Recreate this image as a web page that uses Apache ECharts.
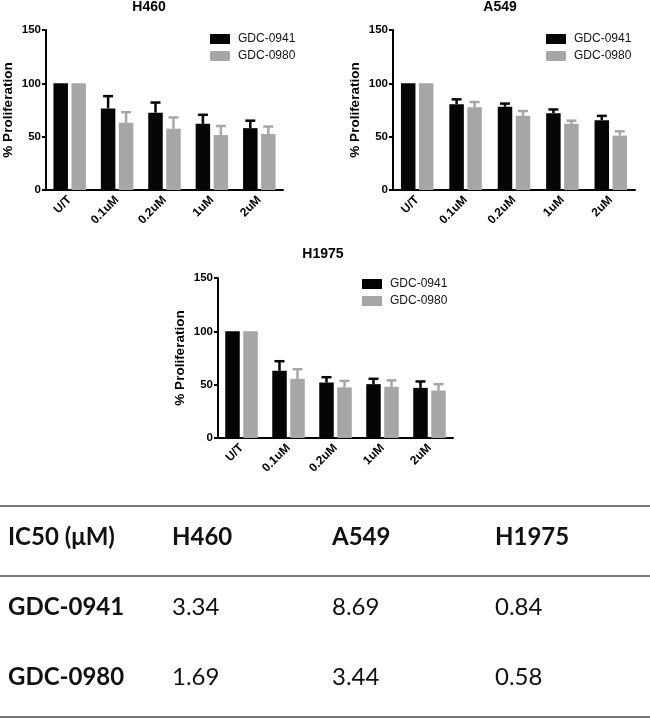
<!DOCTYPE html>
<html>
<head>
<meta charset="utf-8">
<script src="https://cdn.jsdelivr.net/npm/echarts@6/dist/echarts.min.js"></script>
<style>
html,body{margin:0;padding:0;background:#fff;}
#chart{width:650px;height:718px;}
</style>
</head>
<body>
<div id="chart"></div>
<script>
// ---------- data ----------
const categories = ['U/T', '0.1uM', '0.2uM', '1uM', '2uM'];
const seriesNames = ['GDC-0941', 'GDC-0980'];
const panelTitles = ['H460', 'A549', 'H1975'];
const yTicks = [0, 50, 100, 150];

const h460_0941 = [100, 76.5, 72.5, 62, 58];
const h460_0941_err = [0, 11.5, 9.5, 8.5, 7];
const h460_0980 = [100, 63, 57.5, 51.5, 52.5];
const h460_0980_err = [0, 10, 10.5, 8.5, 7];

const a549_0941 = [100, 80.5, 78, 72, 65.5];
const a549_0941_err = [0, 4.5, 3, 3.5, 4];
const a549_0980 = [100, 77.5, 69.5, 62, 51];
const a549_0980_err = [0, 5, 4.5, 3, 4];

const h1975_0941 = [100, 63, 52, 50.5, 47];
const h1975_0941_err = [0, 9, 5, 5, 6];
const h1975_0980 = [100, 55.5, 47.5, 48, 44.5];
const h1975_0980_err = [0, 9, 6, 6, 6];

const ic50Header = ['IC50 (\u03bcM)', 'H460', 'A549', 'H1975'];
const ic50RowLabels = ['GDC-0941', 'GDC-0980'];
const ic50_0941 = ['3.34', '8.69', '0.84'];
const ic50_0980 = ['1.69', '3.44', '0.58'];

// ---------- styling ----------
const BLACK = '#050505';
const GRAY = '#a6a6a6';
const FONT = 'Liberation Sans';
const BAR_W = 14.5;
const GAP = 3.5;

const panels = [
  { title: panelTitles[0], a: h460_0941, ae: h460_0941_err, b: h460_0980, be: h460_0980_err,
    grid: { left: 42, top: 30, width: 241, height: 160 }, titleX: 149, titleY: 0, legend: { left: 210, top: 33 } },
  { title: panelTitles[1], a: a549_0941, ae: a549_0941_err, b: a549_0980, be: a549_0980_err,
    grid: { left: 393, top: 30, width: 242, height: 160 }, titleX: 500, titleY: 0, legend: { left: 546, top: 33 } },
  { title: panelTitles[2], a: h1975_0941, ae: h1975_0941_err, b: h1975_0980, be: h1975_0980_err,
    grid: { left: 218, top: 278, width: 235, height: 160 }, titleX: 323, titleY: 247, legend: { left: 362, top: 278 } }
];

function errorSeries(idx, vals, errs, color, sign) {
  return {
    type: 'custom',
    xAxisIndex: idx, yAxisIndex: idx,
    silent: true,
    z: 1,
    data: vals.map((v, i) => [i, v, errs[i]]),
    renderItem: function (params, api) {
      const e = api.value(2);
      if (!e) return null;
      const base = api.coord([api.value(0), api.value(1)]);
      const top = api.coord([api.value(0), api.value(1) + e]);
      const x = base[0] + sign * (BAR_W / 2 + GAP / 2);
      return {
        type: 'group',
        children: [
          { type: 'line', shape: { x1: x, y1: base[1], x2: x, y2: top[1] }, style: { stroke: color, lineWidth: 2.5 } },
          { type: 'line', shape: { x1: x - 5, y1: top[1], x2: x + 5, y2: top[1] }, style: { stroke: color, lineWidth: 2.5 } }
        ]
      };
    }
  };
}

const option = {
  backgroundColor: '#fff',
  animation: false,
  textStyle: { fontFamily: FONT },
  title: panels.map(p => ({
    text: p.title, left: p.titleX, top: p.titleY, textAlign: 'center', padding: 0,
    textStyle: { fontFamily: FONT, fontWeight: 'bold', fontSize: 14, color: '#000' }
  })),
  legend: panels.map(p => ({
    data: seriesNames, orient: 'vertical', left: p.legend.left, top: p.legend.top,
    itemWidth: 20, itemHeight: 10, itemGap: 5, icon: 'rect', padding: 0,
    textStyle: { fontFamily: FONT, fontSize: 12, color: '#111', padding: [0, 0, 0, 3] }
  })),
  grid: panels.map(p => Object.assign({ containLabel: false }, p.grid)),
  xAxis: panels.map((p, i) => ({
    type: 'category', gridIndex: i, data: categories,
    axisLine: { lineStyle: { color: '#000', width: 2 } },
    axisTick: { alignWithLabel: true, length: 5, lineStyle: { color: '#000', width: 2 } },
    axisLabel: { rotate: 45, margin: 8, fontFamily: FONT, fontWeight: 'bold', fontSize: 12, color: '#000' }
  })),
  yAxis: panels.map((p, i) => ({
    type: 'value', gridIndex: i, min: yTicks[0], max: yTicks[yTicks.length - 1], interval: 50,
    name: '% Proliferation', nameLocation: 'middle', nameGap: 31,
    nameTextStyle: { fontFamily: FONT, fontWeight: 'bold', fontSize: 13.5, color: '#000' },
    axisLine: { show: true, lineStyle: { color: '#000', width: 2 } },
    axisTick: { show: true, length: 4, lineStyle: { color: '#000', width: 2 } },
    axisLabel: { fontFamily: FONT, fontWeight: 'bold', fontSize: 11.5, color: '#000', margin: 5 },
    splitLine: { show: false }
  })),
  series: [].concat(...panels.map((p, i) => [
    { name: seriesNames[0], type: 'bar', xAxisIndex: i, yAxisIndex: i, data: p.a, barWidth: BAR_W, barGap: (GAP / BAR_W * 100) + '%',
      itemStyle: { color: BLACK }, z: 2 },
    { name: seriesNames[1], type: 'bar', xAxisIndex: i, yAxisIndex: i, data: p.b, barWidth: BAR_W, barGap: (GAP / BAR_W * 100) + '%',
      itemStyle: { color: GRAY }, z: 2 },
    errorSeries(i, p.a, p.ae, BLACK, -1),
    errorSeries(i, p.b, p.be, GRAY, 1)
  ])),
  graphic: []
};

// ---------- IC50 table ----------
const TFONT = 'Lato';
const colX = [8, 172, 332, 495];
const rowY = [537, 607, 677];
const lineY = [506, 576, 717];
lineY.forEach(y => option.graphic.push({
  type: 'line', shape: { x1: 0, y1: y, x2: 650, y2: y }, style: { stroke: '#4a4a4a', lineWidth: 1.5 }, silent: true
}));
ic50Header.forEach((t, j) => option.graphic.push({
  type: 'text', x: colX[j], y: rowY[0],
  style: { text: t, font: 'bold 24px ' + TFONT, fill: '#111', textVerticalAlign: 'middle', textAlign: 'left' }
}));
[ic50_0941, ic50_0980].forEach((row, r) => {
  option.graphic.push({
    type: 'text', x: colX[0], y: rowY[r + 1],
    style: { text: ic50RowLabels[r], font: 'bold 24px ' + TFONT, fill: '#111', textVerticalAlign: 'middle', textAlign: 'left' }
  });
  row.forEach((v, j) => option.graphic.push({
    type: 'text', x: colX[j + 1], y: rowY[r + 1],
    style: { text: v, font: '24px ' + TFONT, fill: '#111', textVerticalAlign: 'middle', textAlign: 'left' }
  }));
});

const chart = echarts.init(document.getElementById('chart'), null, { renderer: 'canvas' });
chart.setOption(option);
</script>
</body>
</html>
